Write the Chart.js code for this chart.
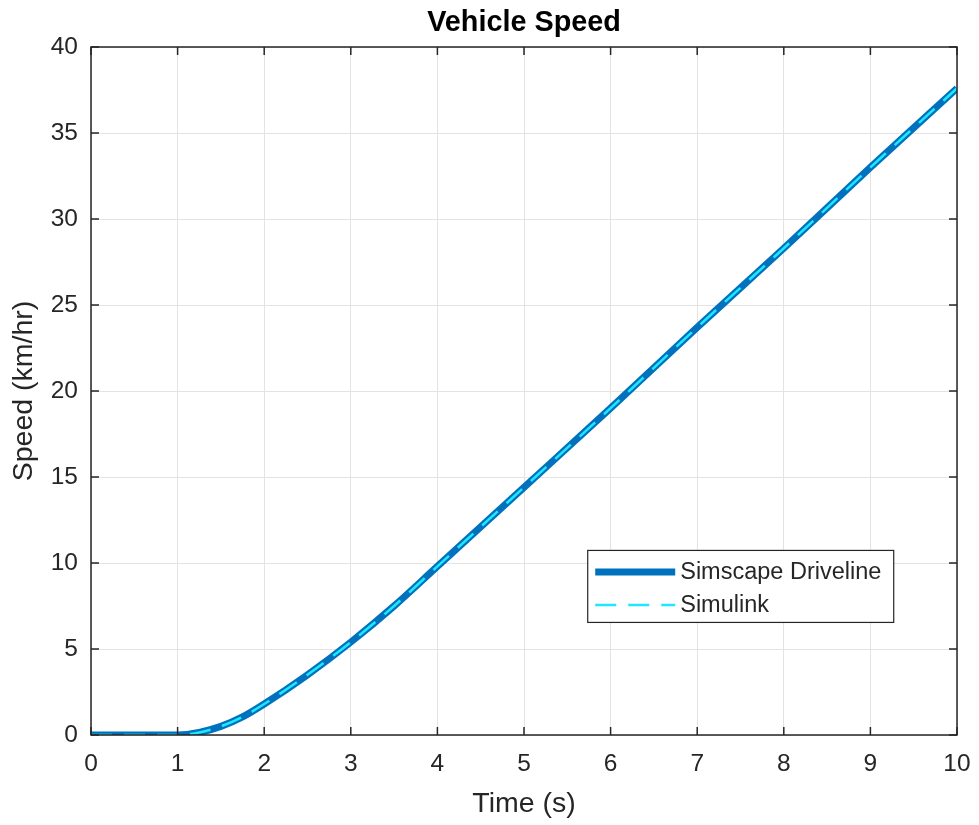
<!DOCTYPE html>
<html>
<head>
<meta charset="utf-8">
<script src="https://cdn.jsdelivr.net/npm/chart.js@4"></script>
<style>
  html, body { margin: 0; padding: 0; background: #fff; }
  canvas { display: block; }
</style>
</head>
<body>
<canvas id="speed" width="979" height="825"></canvas>
<script>
// time (s) and speed (km/hr)
const time = [0, 0.5, 1, 1.25, 1.5, 1.75, 2, 2.5, 3, 3.5, 4, 4.5, 5, 6, 7, 8, 9, 10];
const driveline = [0, 0, 0, 0.15, 0.5, 1.05, 1.8, 3.5, 5.4, 7.5, 9.8, 12.1, 14.4, 19.0, 23.7, 28.3, 33.0, 37.6];
const simulink = [0, 0, 0, 0.15, 0.5, 1.05, 1.8, 3.5, 5.4, 7.5, 9.8, 12.1, 14.4, 19.0, 23.7, 28.3, 33.0, 37.6];
const seriesNames = ['Simscape Driveline', 'Simulink'];
const chartTitle = 'Vehicle Speed';

const FONT = "'Liberation Sans', Arial, Helvetica, sans-serif";
const INK = '#262626';

// title over the axes, box, inward ticks and legend like MATLAB
const boxPlugin = {
  id: 'box',
  afterDraw(chart) {
    const { ctx, chartArea: a, scales } = chart;
    ctx.save();
    ctx.fillStyle = '#000';
    ctx.font = 'bold 28.8px ' + FONT;
    ctx.textAlign = 'center';
    ctx.textBaseline = 'alphabetic';
    ctx.fillText(chartTitle, (a.left + a.right) / 2, 31);
    ctx.textAlign = 'left';

    ctx.strokeStyle = INK;
    ctx.lineWidth = 1.5;
    ctx.strokeRect(a.left, a.top, a.right - a.left, a.bottom - a.top);
    ctx.beginPath();
    scales.x.ticks.forEach(t => {
      const px = scales.x.getPixelForValue(t.value);
      ctx.moveTo(px, a.bottom); ctx.lineTo(px, a.bottom - 8);
      ctx.moveTo(px, a.top); ctx.lineTo(px, a.top + 8);
    });
    scales.y.ticks.forEach(t => {
      const py = scales.y.getPixelForValue(t.value);
      ctx.moveTo(a.left, py); ctx.lineTo(a.left + 8, py);
      ctx.moveTo(a.right, py); ctx.lineTo(a.right - 8, py);
    });
    ctx.stroke();

    // legend
    const w = a.right - a.left, h = a.bottom - a.top;
    const lx = a.left + w * 0.573, ly = a.top + h * 0.731;
    const lw = 306, lh = 72;
    ctx.fillStyle = '#fff';
    ctx.fillRect(lx, ly, lw, lh);
    ctx.strokeStyle = INK;
    ctx.lineWidth = 1.2;
    ctx.strokeRect(lx + 0.5, ly + 0.5, lw, lh);
    const ds = chart.data.datasets;
    [0, 1].forEach(i => {
      const y = ly + 22 + i * 33;
      ctx.beginPath();
      ctx.strokeStyle = ds[i].borderColor;
      ctx.lineWidth = i === 0 ? 7 : 2.5;
      ctx.setLineDash(i === 0 ? [] : [21, 12]);
      ctx.moveTo(lx + 8, y); ctx.lineTo(lx + 88, y);
      ctx.stroke();
      ctx.setLineDash([]);
      ctx.fillStyle = INK;
      ctx.font = '23.5px ' + FONT;
      ctx.textBaseline = 'middle';
      ctx.fillText(seriesNames[i], lx + 93, y + 1);
    });
    ctx.restore();
  }
};

const points = (xs, ys) => xs.map((x, i) => ({ x: x, y: ys[i] }));

new Chart(document.getElementById('speed').getContext('2d'), {
  type: 'line',
  data: {
    datasets: [
      {
        label: seriesNames[0],
        data: points(time, driveline),
        borderColor: '#0072BD',
        borderWidth: 7,
        pointRadius: 0,
        cubicInterpolationMode: 'monotone',
        order: 2
      },
      {
        label: seriesNames[1],
        data: points(time, simulink),
        borderColor: '#1EE8FF',
        borderWidth: 2.5,
        borderDash: [21, 12],
        pointRadius: 0,
        cubicInterpolationMode: 'monotone',
        order: 1
      }
    ]
  },
  options: {
    responsive: false,
    animation: false,
    layout: { padding: { left: 0, right: 22, top: 47, bottom: 0 } },
    plugins: {
      legend: { display: false },
      tooltip: { enabled: false },
      title: { display: false }
    },
    scales: {
      x: {
        type: 'linear',
        min: 0, max: 10,
        ticks: { stepSize: 1, color: INK, font: { family: FONT, size: 24.5 }, padding: 15 },
        grid: { color: '#e3e3e3', lineWidth: 1, drawTicks: false },
        border: { display: false },
        title: { display: true, text: 'Time (s)', color: INK, font: { family: FONT, size: 28.5 }, padding: { top: 0, bottom: 4 } },
        afterFit(s) { s.height = 90; s.paddingLeft = 0; s.paddingRight = 0; }
      },
      y: {
        min: 0, max: 40,
        ticks: { stepSize: 5, color: INK, font: { family: FONT, size: 24.5 }, padding: 13 },
        grid: { color: '#e3e3e3', lineWidth: 1, drawTicks: false },
        border: { display: false },
        title: { display: true, text: 'Speed (km/hr)', color: INK, font: { family: FONT, size: 28.5 }, padding: { top: 7, bottom: 0 } },
        afterFit(s) { s.width = 91; s.paddingTop = 0; s.paddingBottom = 0; }
      }
    }
  },
  plugins: [boxPlugin]
});
</script>
</body>
</html>
